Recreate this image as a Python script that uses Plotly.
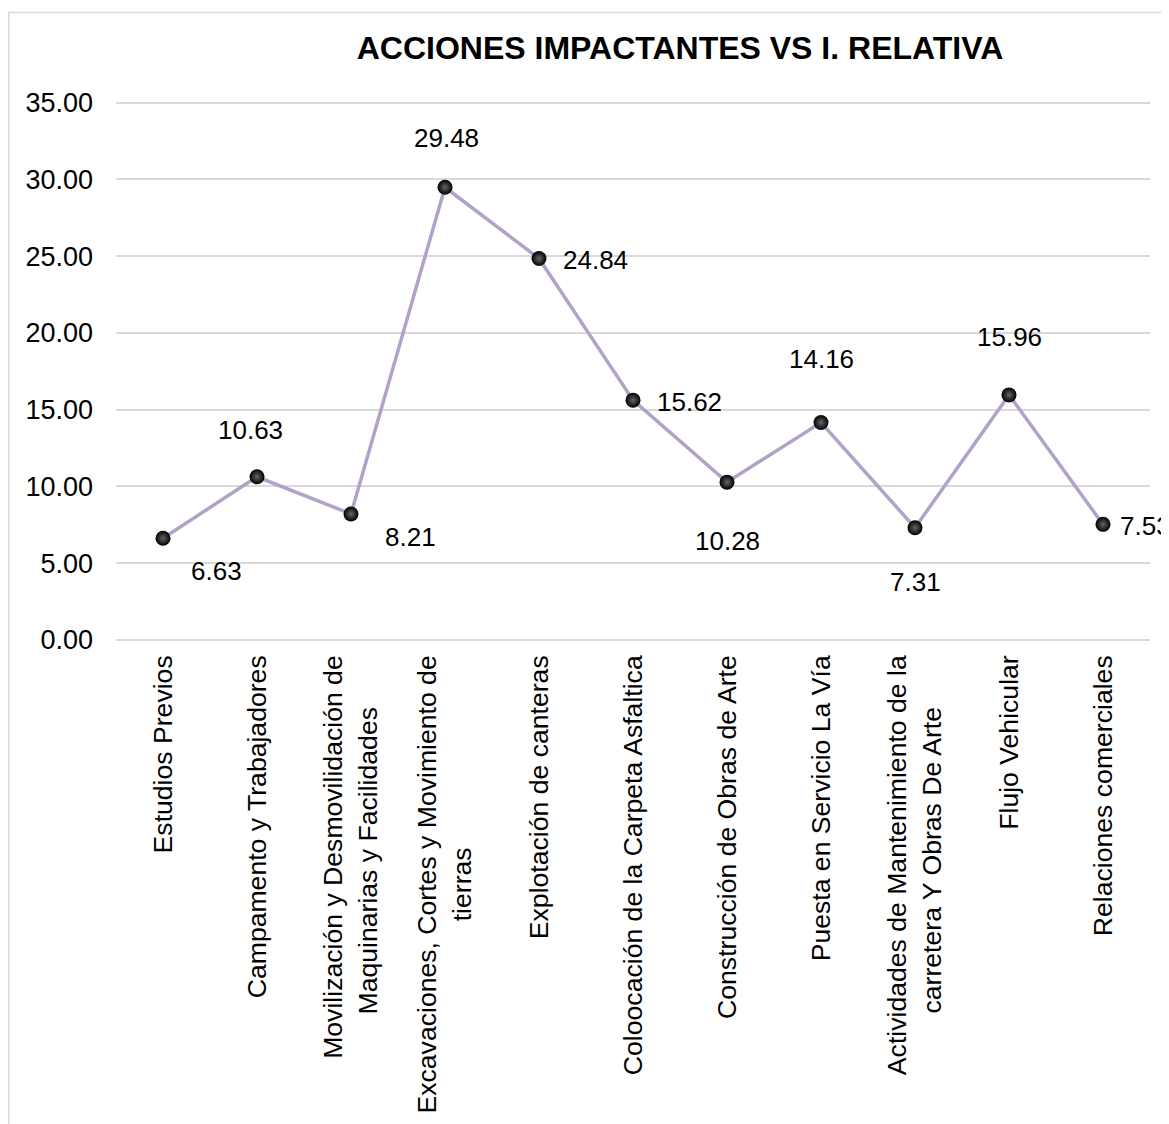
import plotly.graph_objects as go

NB = "\u00a0"
categories = [
    "Estudios Previos",
    "Campamento y Trabajadores",
    "Movilización y Desmovilidación de<br>Maquinarias y Facilidades" + NB * 7,
    "Excavaciones, Cortes y Movimiento de<br>tierras" + NB * 26,
    "Explotación de canteras",
    "Coloocación de la Carpeta Asfaltica",
    "Construcción de Obras de Arte",
    "Puesta en Servicio La Vía",
    "Actividades de Mantenimiento de la<br>carretera Y Obras De Arte" + NB * 7,
    "Flujo Vehicular",
    "Relaciones comerciales",
]
values = [6.63, 10.63, 8.21, 29.48, 24.84, 15.62, 10.28, 14.16, 7.31, 15.96, 7.53]
y_ticks = [0, 5, 10, 15, 20, 25, 30, 35]
title_text = "ACCIONES IMPACTANTES VS I. RELATIVA"

# label offsets in pixels (dx, dy up)
label_offsets = [(53, -33), (-7, 47), (59, -23), (1, 49), (56, -1), (56, -2),
                 (0, -59), (0, 64), (0, -54), (0, 58), (42, -2)]

FONT = "Arial, Liberation Sans, sans-serif"
GRID = "#d9d9d9"

# page body has an 8px margin: figure is shifted, so compensate
W, H = 1161, 1116
ML, MR, MT, MB = 108, 19, 93, 484
PH = H - MT - MB

fig = go.Figure()
fig.add_trace(go.Scatter(
    x=categories, y=values, mode="lines+markers",
    line=dict(color="#b3a2c7", width=3.5),
    marker=dict(size=15, color="#000000",
                gradient=dict(type="radial", color="#666666")),
    cliponaxis=False, showlegend=False, hoverinfo="x+y",
))

for c, v, (dx, dy) in zip(categories, values, label_offsets):
    fig.add_annotation(x=c, y=v, text=f"{v:.2f}", showarrow=False,
                       xshift=dx, yshift=dy,
                       font=dict(family=FONT, size=26, color="#000000"))

# chart border
fig.add_shape(type="rect", xref="paper", yref="paper",
              x0=(0.75 - ML) / 1034, x1=1.05, y0=-1.0, y1=(MT + PH - 4.5) / PH,
              line=dict(color=GRID, width=1.5), fillcolor="rgba(0,0,0,0)", layer="below")

fig.update_layout(
    width=W, height=H,
    margin=dict(l=ML, r=MR, t=MT, b=MB, autoexpand=False),
    paper_bgcolor="#ffffff", plot_bgcolor="#ffffff",
    font=dict(family=FONT, size=26, color="#000000"),
    title=dict(text=f"<b>{title_text}</b>", x=(680 - 8) / W, xref="container", xanchor="center",
               y=1 - (48 - 8) / H, yref="container", yanchor="middle",
               font=dict(family=FONT, size=32, color="#000000")),
    xaxis=dict(type="category", range=[-0.5, 10.5], tickangle=-90, showgrid=False,
               zeroline=False, showline=False, ticks="", automargin=False,
               ticklabelstandoff=9,
               tickfont=dict(family=FONT, size=26.6, color="#000000")),
    yaxis=dict(range=[0, 35.1], tickvals=y_ticks, tickformat=".2f", showgrid=True,
               gridcolor=GRID, gridwidth=1.5, zeroline=True, zerolinecolor=GRID,
               zerolinewidth=1.5, showline=False, ticks="", automargin=False,
               ticklabelstandoff=22,
               tickfont=dict(family=FONT, size=27, color="#000000")),
)

fig.write_html("out.html")
